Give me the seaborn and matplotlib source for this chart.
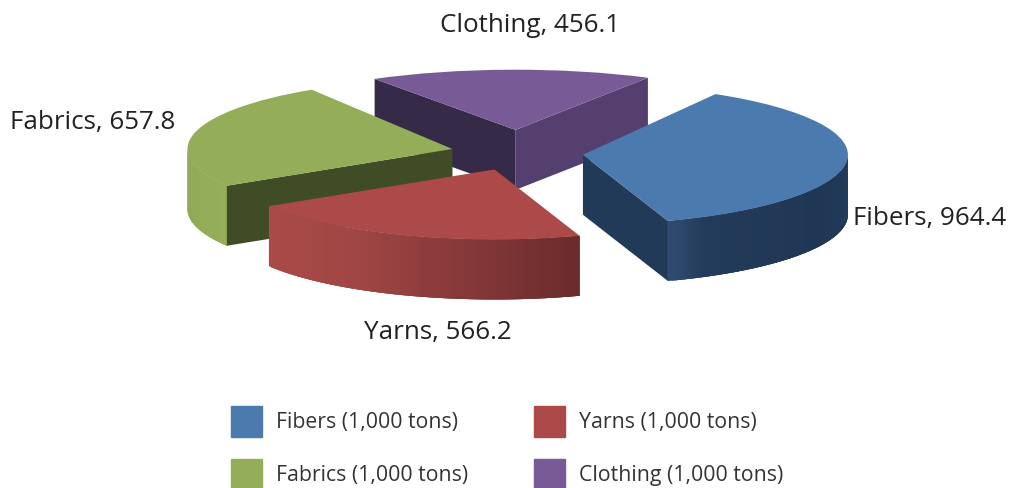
import numpy as np
import matplotlib
matplotlib.use("Agg")
import matplotlib.pyplot as plt
from matplotlib.colors import to_rgb
from matplotlib.patches import Patch
from matplotlib.transforms import Affine2D
import seaborn as sns

categories = ["Fibers", "Yarns", "Fabrics", "Clothing"]
values = [964.4, 566.2, 657.8, 456.1]
unit = "1,000 tons"

sns.set_theme(style="white")
plt.rcParams["font.family"] = ["Open Sans", "DejaVu Sans"]

W, H = 1011, 488
top_colors = ["#4a7aae", "#ab4a48", "#93ad58", "#785b96"]
explode = [0.25, 0.25, 0.25, 0.33]
flatten = [1.0, 1.0, 1.0, 0.86]   # far slice looks flatter in perspective
# outer wall shading: (fraction along the wedge's visible arc, colour)
wall_stops = [
    [(0.0, "#2f4c70"), (0.12, "#233b5a"), (0.6, "#1f3654"), (1.0, "#233c5c")],
    [(0.0, "#ab4a48"), (0.35, "#a04644"), (1.0, "#6b2b2c")],
    [(0.0, "#8fa956"), (1.0, "#94ae59")],
    [(0.0, "#574170"), (1.0, "#574170")],
]
inner_colors = ["#213a58", "#6b2b2c", "#3f4c25", None]
clothing_walls = ["#352a47", "#553f6e"]
draw_order = [3, 2, 0, 1]

px_x, px_y = 265.0, 70.0
cx, cy = 517.0, 153.0
depth = 60.0 / px_y

fig = plt.figure(figsize=(W / 100, H / 100), dpi=100, facecolor="white")
ax = fig.add_axes([0, 0, 1, 1])
wedges, _ = ax.pie(values, explode=explode, startangle=60, counterclock=False,
                   colors=top_colors, radius=1, wedgeprops={"linewidth": 0})
ax.set_aspect("auto")
ax.set_xlim(-cx / px_x, (W - cx) / px_x)
ax.set_ylim(-(H - cy) / px_y, cy / px_y)
ax.axis("off")


def wall(p, q, color, z):
    xs = [p[0], q[0], q[0], p[0]]
    ys = [p[1], q[1], q[1] - depth, p[1] - depth]
    ax.fill(xs, ys, color=color, lw=0, zorder=z)


def ramp(stops, t):
    ts = [s[0] for s in stops]
    rgb = np.array([to_rgb(s[1]) for s in stops])
    return tuple(np.interp(t, ts, rgb[:, i]) for i in range(3))


for rank, i in enumerate(draw_order):
    w = wedges[i]
    z = 10 + rank * 10
    c = np.array(w.center)
    a1, a2 = w.theta1, w.theta2
    s = flatten[i]
    angs = np.radians(np.linspace(a1, a2, 160))
    pts = np.c_[c[0] + np.cos(angs), c[1] + s * np.sin(angs)]
    idx = np.where(np.sin(angs) < 0)[0]
    if len(idx) > 1:
        for n, j in enumerate(idx[:-1]):
            t = n / (len(idx) - 2)
            # each strip overlaps the next one so no seams show
            k = min(j + 3, idx[-1])
            wall(pts[j], pts[k], ramp(wall_stops[i], t), z + n * 1e-3)
    # straight cut faces that look towards the viewer
    for end, sign in ((a1, -1), (a2, 1)):
        normal = np.radians(end + sign * 90)
        if np.sin(normal) < 0.0 or categories[i] == "Clothing":
            e = c + [np.cos(np.radians(end)), s * np.sin(np.radians(end))]
            col = inner_colors[i]
            if categories[i] == "Clothing":
                col = clothing_walls[0] if e[0] < c[0] else clothing_walls[1]
            wall(c, e, col, z + 1)
    w.set_transform(Affine2D().translate(-c[0], -c[1]).scale(1, s)
                    .translate(c[0], c[1]) + ax.transData)
    w.set_zorder(z + 2)

label_pos = {"Fibers": (930, 219), "Yarns": (438, 333),
             "Fabrics": (93, 122), "Clothing": (530, 26)}
for name, v in zip(categories, values):
    x, y = label_pos[name]
    fig.text(x / W, 1 - y / H, f"{name}, {v}", ha="center", va="center",
             fontsize=18.7, color="#222222", zorder=100)

order = [0, 2, 1, 3]
handles = [Patch(color=top_colors[i]) for i in order]
labels = [f"{categories[i]} ({unit})" for i in order]
fs = 15.3
fpx = fs * 100 / 72
leg = fig.legend(handles, labels, ncol=2, loc="upper left",
                 bbox_to_anchor=(231 / W, 1 - 406 / H), bbox_transform=fig.transFigure,
                 fontsize=fs, frameon=False, borderpad=0, borderaxespad=0,
                 handlelength=31 / fpx, handleheight=(31 / fpx - 0.245) / 0.65,
                 handletextpad=14 / fpx,
                 labelspacing=22 / fpx, columnspacing=66 / fpx, labelcolor="#333333")
fig.savefig("out.png", dpi=100, facecolor="white")
